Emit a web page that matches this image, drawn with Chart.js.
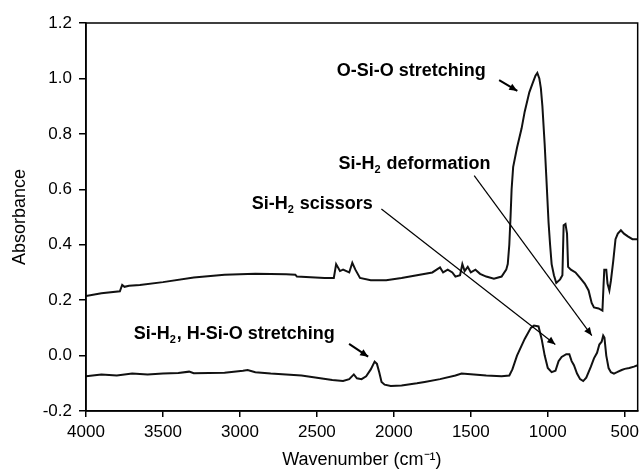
<!DOCTYPE html>
<html>
<head>
    <title>FTIR Absorbance Spectra</title>
    <script src="https://cdn.jsdelivr.net/npm/chart.js"></script>
    <style>
        body { margin: 0; background: #fff; }
    </style>
</head>
<body>
    <canvas id="ftirChart" width="644" height="473"></canvas>
<script>
// Upper spectrum (wavenumber in cm-1, absorbance)
let upperWn = [4000, 3900, 3780, 3765, 3750, 3720, 3650, 3500, 3300, 3100, 2900, 2700, 2640, 2630, 2450, 2390,
    2375, 2350, 2330, 2290, 2270, 2250, 2220, 2150, 2050, 1950, 1850, 1750, 1700, 1680, 1650, 1620, 1600,
    1570, 1555, 1540, 1520, 1500, 1470, 1440, 1400, 1350, 1300, 1270, 1260, 1250, 1242, 1235, 1225, 1200,
    1170, 1150, 1120, 1100, 1080, 1068, 1055, 1045, 1035, 1020, 1010, 995, 985, 975, 960, 945, 920, 905,
    897, 885, 875, 868, 850, 820, 790, 760, 735, 715, 700, 670, 645, 638, 633, 620, 612, 600, 590, 575,
    560, 545, 525, 505, 480, 450, 416];
let upperAbs = [0.215, 0.225, 0.232, 0.255, 0.248, 0.252, 0.255, 0.265, 0.282, 0.292, 0.295, 0.293, 0.292, 0.285, 0.28, 0.28,
    0.33, 0.305, 0.31, 0.30, 0.335, 0.31, 0.28, 0.272, 0.272, 0.28, 0.29, 0.30, 0.318, 0.30, 0.31, 0.30, 0.285,
    0.29, 0.33, 0.305, 0.32, 0.30, 0.31, 0.295, 0.285, 0.277, 0.285, 0.31, 0.33, 0.40, 0.50, 0.60, 0.68, 0.75,
    0.82, 0.88, 0.95, 0.98, 1.01, 1.02, 1.00, 0.965, 0.90, 0.76, 0.65, 0.48, 0.40, 0.33, 0.29, 0.262, 0.275, 0.29,
    0.47, 0.475, 0.44, 0.32, 0.31, 0.30, 0.28, 0.26, 0.235, 0.19, 0.174, 0.17, 0.162, 0.25, 0.31, 0.31, 0.26, 0.235, 0.27, 0.34,
    0.42, 0.44, 0.452, 0.44, 0.43, 0.42, 0.42];

// Lower spectrum
let lowerWn = [4000, 3900, 3800, 3700, 3600, 3500, 3400, 3330, 3300, 3100, 2980, 2950, 2900, 2800, 2700, 2600,
    2500, 2400, 2330, 2290, 2260, 2240, 2210, 2180, 2150, 2125, 2110, 2095, 2080, 2060, 2020, 1950, 1850,
    1800, 1700, 1600, 1560, 1500, 1400, 1300, 1250, 1230, 1200, 1150, 1110, 1090, 1060, 1040, 1020, 1000,
    975, 950, 930, 910, 880, 860, 845, 830, 810, 790, 770, 750, 720, 700, 680, 665, 650, 640, 632, 620, 605,
    590, 570, 550, 520, 500, 470, 440, 416];
let lowerAbs = [-0.075, -0.068, -0.072, -0.065, -0.068, -0.065, -0.063, -0.058, -0.064, -0.062, -0.055, -0.052, -0.06, -0.065, -0.068, -0.072,
    -0.08, -0.088, -0.092, -0.085, -0.068, -0.082, -0.085, -0.075, -0.05, -0.022, -0.03, -0.06, -0.095, -0.105, -0.11, -0.108, -0.1,
    -0.095, -0.085, -0.072, -0.065, -0.067, -0.072, -0.075, -0.072, -0.05, 0.0, 0.06, 0.10, 0.108, 0.105, 0.06, 0.0, -0.045,
    -0.06, -0.055, -0.02, -0.005, 0.005, 0.005, -0.02, -0.035, -0.065, -0.085, -0.092, -0.08, -0.04, -0.01, 0.01, 0.04, 0.05, 0.072, 0.065, 0.0, -0.045,
    -0.06, -0.065, -0.06, -0.052, -0.048, -0.045, -0.04, -0.035];

// Axis ticks
let xTicks = [4000, 3500, 3000, 2500, 2000, 1500, 1000, 500];
let yTicks = [-0.2, 0.0, 0.2, 0.4, 0.6, 0.8, 1.0, 1.2];

// Peak labels: text, label anchor and arrow, all in data units (_2 = subscript 2)
let notes = [
    { text: 'O-Si-O stretching', at: [2371, 1.027], from: [1316, 0.994], to: [1198, 0.955], thick: true },
    { text: 'Si-H_2 deformation', at: [2360, 0.691], from: [1478, 0.649], to: [714, 0.072], thick: false },
    { text: 'Si-H_2 scissors', at: [2924, 0.547], from: [2081, 0.529], to: [951, 0.040], thick: false },
    { text: 'Si-H_2, H-Si-O stretching', at: [3690, 0.078], from: [2291, 0.042], to: [2167, -0.004], thick: true }
];

const FONT = "'Liberation Sans', Arial, sans-serif";

function drawLabel(ctx, text, x, y) {
    let parts = text.split('_2');
    ctx.font = 'bold 18px ' + FONT;
    ctx.textBaseline = 'middle';
    ctx.textAlign = 'left';
    ctx.fillText(parts[0], x, y);
    let cx = x + ctx.measureText(parts[0]).width;
    if (parts.length > 1) {
        ctx.font = 'bold 11px ' + FONT;
        ctx.fillText('2', cx, y + 6);
        cx += ctx.measureText('2').width + 1;
        ctx.font = 'bold 18px ' + FONT;
        ctx.fillText(parts[1], cx, y);
    }
}

function drawArrow(ctx, x1, y1, x2, y2, thick) {
    ctx.lineWidth = thick ? 2 : 1.2;
    ctx.beginPath();
    ctx.moveTo(x1, y1);
    ctx.lineTo(x2, y2);
    ctx.stroke();
    let ang = Math.atan2(y2 - y1, x2 - x1);
    let len = 8, half = 3.5;
    ctx.beginPath();
    ctx.moveTo(x2, y2);
    ctx.lineTo(x2 - len * Math.cos(ang) + half * Math.sin(ang), y2 - len * Math.sin(ang) - half * Math.cos(ang));
    ctx.lineTo(x2 - len * Math.cos(ang) - half * Math.sin(ang), y2 - len * Math.sin(ang) + half * Math.cos(ang));
    ctx.closePath();
    ctx.fill();
}

// Frame and peak labels
const notePlugin = {
    id: 'notes',
    afterDatasetsDraw(chart) {
        const { ctx, chartArea: a } = chart;
        const xs = chart.scales.x, ys = chart.scales.y;
        ctx.save();
        ctx.strokeStyle = '#000';
        ctx.fillStyle = '#000';
        ctx.lineWidth = 1.5;
        ctx.strokeRect(a.left, a.top, a.right - a.left, a.bottom - a.top);
        notes.forEach(n => {
            drawLabel(ctx, n.text, xs.getPixelForValue(n.at[0]), ys.getPixelForValue(n.at[1]));
            drawArrow(ctx,
                xs.getPixelForValue(n.from[0]), ys.getPixelForValue(n.from[1]),
                xs.getPixelForValue(n.to[0]), ys.getPixelForValue(n.to[1]), n.thick);
        });
        ctx.restore();
    }
};

function toPoints(wn, ab) {
    return wn.map((w, i) => ({ x: w, y: ab[i] }));
}

const ctx = document.getElementById('ftirChart').getContext('2d');
const ftirChart = new Chart(ctx, {
    type: 'line',
    data: {
        datasets: [
            { data: toPoints(upperWn, upperAbs), borderColor: '#111', borderWidth: 2, pointRadius: 0, tension: 0 },
            { data: toPoints(lowerWn, lowerAbs), borderColor: '#111', borderWidth: 2, pointRadius: 0, tension: 0 }
        ]
    },
    options: {
        responsive: false,
        animation: false,
        layout: { padding: { top: 23, right: 3, left: 0, bottom: 0 } },
        plugins: { legend: { display: false }, tooltip: { enabled: false } },
        scales: {
            x: {
                type: 'linear',
                reverse: true,
                min: 416,
                max: 4000,
                afterBuildTicks: s => { s.ticks = xTicks.map(v => ({ value: v })); },
                afterFit: s => { s.height = 62; },
                border: { color: '#000', width: 1.5 },
                grid: { drawOnChartArea: false, color: '#000', lineWidth: 1.5, tickLength: 6 },
                ticks: { color: '#000', padding: 5, maxRotation: 0, font: { family: FONT, size: 17 }, callback: v => String(v) },
                title: { display: true, text: 'Wavenumber (cm\u207B\u00B9)', color: '#000', padding: { top: 0, bottom: 2 }, font: { family: FONT, size: 18 } }
            },
            y: {
                min: -0.2,
                max: 1.2,
                afterBuildTicks: s => { s.ticks = yTicks.map(v => ({ value: v })); },
                afterFit: s => { s.width = 86; },
                border: { color: '#000', width: 1.5 },
                grid: { drawOnChartArea: false, color: '#000', lineWidth: 1.5, tickLength: 7 },
                ticks: { color: '#000', padding: 7, font: { family: FONT, size: 17 }, callback: v => v.toFixed(1) },
                title: { display: true, text: 'Absorbance', color: '#000', padding: { top: 9, bottom: 0 }, font: { family: FONT, size: 18 } }
            }
        }
    },
    plugins: [notePlugin]
});
</script>
</body>
</html>
